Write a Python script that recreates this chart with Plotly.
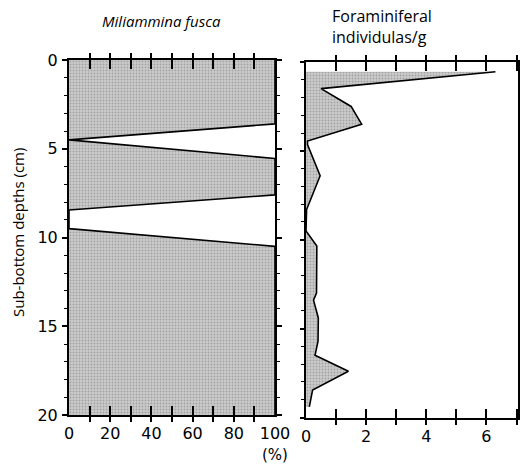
import plotly.graph_objects as go

# Miliammina fusca abundance (%) against sub-bottom depth (cm)
fusca_depth = [0, 3.6, 4.5, 5.55, 7.6, 8.45, 9.5, 10.5, 20]
fusca_pct = [100, 100, 0, 100, 100, 0, 0, 100, 100]

# Foraminiferal individuals per gram against sub-bottom depth (cm)
foram_depth = [0.55, 1.5, 2.5, 3.5, 4.45, 4.65, 6.4, 8.3, 9.5, 10.35, 13.0, 13.4,
               14.4, 15.7, 16.5, 17.4, 18.45, 19.4]
foram_count = [6.3, 0.5, 1.5, 1.85, 0.05, 0.05, 0.47, 0.02, 0.0, 0.36, 0.35, 0.25,
               0.41, 0.4, 0.3, 1.41, 0.22, 0.11]

depth_ticks = [0, 5, 10, 15, 20]
pct_ticks = [0, 20, 40, 60, 80, 100]
count_ticks = [0, 2, 4, 6]

W, H = 520, 466
FONT = "Open Sans"
TICK_FONT = "DejaVu Sans"
fill_pattern = dict(shape=".", bgcolor="#cbcbcb", fgcolor="#7a7a7a", size=3, solidity=0.3)

fig = go.Figure()

fig.add_trace(go.Scatter(
    x=fusca_pct, y=fusca_depth, mode="lines", fill="tozerox",
    line=dict(color="black", width=1.6), fillcolor="#c4c4c4",
    fillpattern=fill_pattern, xaxis="x", yaxis="y", showlegend=False,
    hoverinfo="skip"))

fig.add_trace(go.Scatter(
    x=foram_count, y=foram_depth, mode="lines", fill="tozerox",
    line=dict(color="black", width=1.6), fillcolor="#c4c4c4",
    fillpattern=fill_pattern, xaxis="x2", yaxis="y2", showlegend=False,
    hoverinfo="skip"))

# panel placement in paper coordinates
left_x = [69 / W, 275 / W]
right_x = [306 / W, 518 / W]
left_y = [1 - 415 / H, 1 - 60 / H]
right_y = [1 - 417.5 / H, 1 - 62 / H]

tick_font = dict(family=TICK_FONT, size=16, color="black")
axis_line = dict(showline=True, linecolor="black", linewidth=2, showgrid=False,
                 zeroline=False, automargin=False, layer="above traces")

pct_vals = list(range(0, 101, 10))
pct_text = [str(v) if v in pct_ticks else "" for v in pct_vals]
cnt_vals = list(range(0, 8))
cnt_text = [str(v) if v in count_ticks else "" for v in cnt_vals]

# x ticks cross the frame: long inside major ticks plus short outside minor ticks
# placed at (practically) the same values
layout = dict(
    width=W, height=H, margin=dict(l=0, r=0, t=0, b=0, autoexpand=False),
    paper_bgcolor="white", plot_bgcolor="white",
    xaxis=dict(domain=left_x, range=[0, 100], anchor="y", side="bottom",
               tickmode="array", tickvals=pct_vals, ticktext=pct_text,
               ticks="inside", ticklen=9, tickwidth=1.6, tickcolor="black",
               minor=dict(tick0=0.02, dtick=10, ticks="outside", ticklen=5,
                          tickwidth=1.6, tickcolor="black"),
               mirror="ticks", tickfont=tick_font, ticklabelstandoff=3, **axis_line),
    yaxis=dict(domain=left_y, range=[20, 0], anchor="x",
               tickmode="array", tickvals=depth_ticks, ticks="outside", ticklen=5,
               tickwidth=1.5, tickcolor="black", mirror="ticks", tickfont=tick_font,
               minor=dict(dtick=1, ticks="outside", ticklen=3, tickwidth=1.2, tickcolor="black"),
               ticklabelstandoff=1, **axis_line),
    xaxis2=dict(domain=right_x, range=[0, 7.05], anchor="y2", side="bottom",
                tickmode="array", tickvals=cnt_vals, ticktext=cnt_text,
                ticks="inside", ticklen=9, tickwidth=1.6, tickcolor="black",
                minor=dict(tick0=0.0002, dtick=1, ticks="outside", ticklen=5,
                           tickwidth=1.6, tickcolor="black"),
                mirror="ticks", tickfont=tick_font, ticklabelstandoff=3, **axis_line),
    yaxis2=dict(domain=right_y, range=[20, 0], anchor="x2",
                tickmode="array", tickvals=depth_ticks, showticklabels=False,
                ticks="outside", ticklen=4, tickwidth=1.5, tickcolor="black", mirror="ticks",
                minor=dict(dtick=1, ticks="outside", ticklen=3, tickwidth=1.2, tickcolor="black"),
                **axis_line),
    annotations=[
        dict(text="<i>Miliammina fusca</i>", xref="paper", yref="paper",
             x=161 / W, y=1 - 21 / H, showarrow=False, xanchor="center", yanchor="middle",
             font=dict(family=FONT, size=15, color="black")),
        dict(text="Foraminiferal<br>individulas/g", xref="paper", yref="paper",
             x=330 / W, y=1 - 26 / H, showarrow=False, xanchor="left", yanchor="middle",
             align="left", font=dict(family=FONT, size=16, color="black")),
        dict(text="Sub-bottom depths (cm)", xref="paper", yref="paper",
             x=18 / W, y=1 - 233 / H, showarrow=False, textangle=-90,
             xanchor="center", yanchor="middle",
             font=dict(family=FONT, size=15, color="black")),
        dict(text="(%)", xref="x", yref="paper", x=100, y=1 - 455 / H,
             showarrow=False, xanchor="center", yanchor="middle",
             font=dict(family=TICK_FONT, size=15, color="black")),
    ],
)
fig.update_layout(**layout)

fig.write_html("out.html")
